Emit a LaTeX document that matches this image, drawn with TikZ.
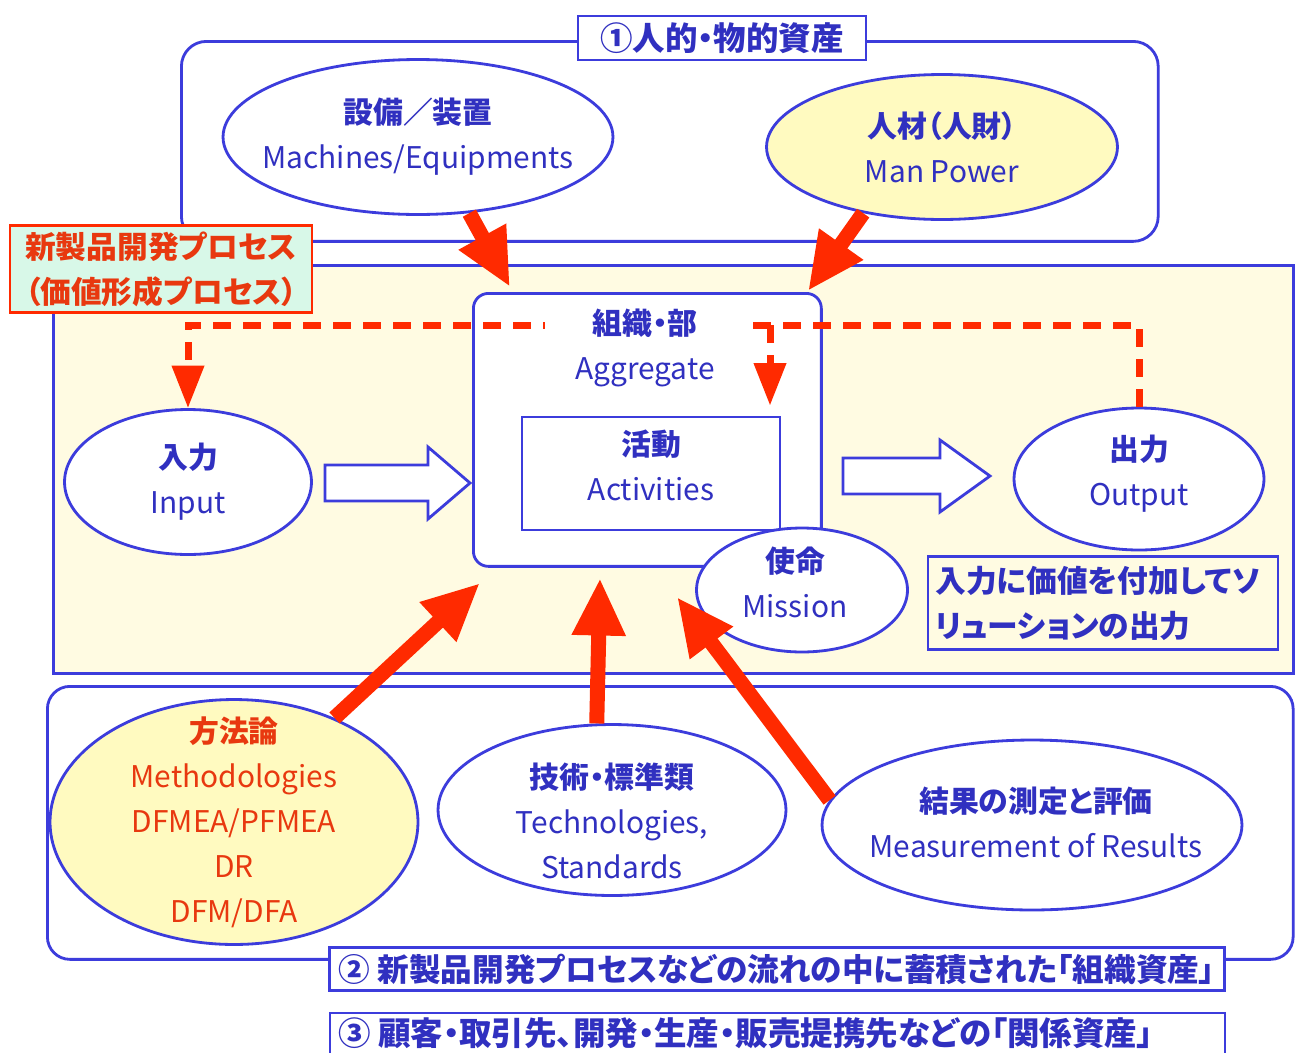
\documentclass[tikz,border=0pt]{standalone}
\usepackage{fontspec}
\setmainfont{Noto Sans CJK JP}[RawFeature=+palt]
\usetikzlibrary{arrows.meta,shapes.geometric}
\definecolor{bl}{HTML}{3C3CDC}
\definecolor{tb}{HTML}{3030C0}
\definecolor{rd}{HTML}{FF2A00}
\definecolor{rt}{HTML}{E8380F}
\definecolor{yl}{HTML}{FFFAC0}
\definecolor{pale}{HTML}{FFFBE2}
\definecolor{mint}{HTML}{D8F8E8}
\newcommand\jpb[1]{{\bfseries #1}}
\begin{document}
\begin{tikzpicture}[x=0.02cm,y=-0.02cm,
  bord/.style={draw=bl,line width=1.6pt},
  ell/.style={ellipse,bord,fill=white,inner sep=0pt},
  txt/.style={text=tb,font=\fontsize{17}{25.6}\selectfont,align=center},
  bigarr/.style={draw=rd,line width=0.3cm,-{Triangle[width=1.0cm,length=1.15cm]}},
  dasharr/.style={draw=rd,line width=0.14cm,dash pattern=on 0.36cm off 0.24cm},
  dtip/.style={-{Triangle[width=0.62cm,length=0.85cm]}},
  hollow/.style={draw=bl,line width=1.6pt,fill=white,line join=miter}
]
\useasboundingbox (0,0) rectangle (1295,1052);
\fill[white] (0,0) rectangle (1295,1052);

% big frames
\node[bord,fill=pale,minimum width=24.8cm,minimum height=8.16cm,anchor=north west,inner sep=0pt] (proc) at (52,264) {};
\node[bord,rounded corners=0.5cm,minimum width=19.54cm,minimum height=4cm,anchor=north west,inner sep=0pt] (topbox) at (180,40) {};
\node[bord,rounded corners=0.45cm,minimum width=24.92cm,minimum height=5.46cm,anchor=north west,inner sep=0pt] (botbox) at (46,685) {};

% labels on frames
\node[draw=rd,fill=mint,line width=1.6pt,minimum width=6.04cm,minimum height=1.72cm,text=rt,font=\fontsize{17.5}{25.6}\selectfont\bfseries,align=center] (plab) at (161,269) {新製品開発プロセス\\（価値形成プロセス）};
\node[bord,fill=white,minimum width=5.76cm,minimum height=0.88cm,txt,font=\fontsize{18.5}{22}\selectfont\bfseries] (lab1) at (722,38) {①人的・物的資産};
\node[bord,fill=white,minimum width=17.9cm,minimum height=0.84cm,inner xsep=1pt,txt,font=\fontsize{18}{22}\selectfont\bfseries] (lab2) at (777,969) {② 新製品開発プロセスなどの流れの中に蓄積された「組織資産」};
\draw[bord] (330,1060) |- (1225,1013) -- (1225,1060);
\node[txt,anchor=west,font=\fontsize{18.5}{22}\selectfont\bfseries] (lab3) at (332,1033) {③ 顧客・取引先、開発・生産・販売提携先などの「関係資産」};

% top ellipses
\node[ell,minimum width=7.8cm,minimum height=3.1cm] (mach) at (418,137) {};
\node[txt] at (mach) {\jpb{設備／装置}\\Machines/Equipments};
\node[ell,fill=yl,minimum width=7.02cm,minimum height=2.9cm] (mp) at (942,147) {};
\node[txt] at (mp) {\jpb{人材（人財）}\\Man Power};

% process area
\node[ell,minimum width=4.94cm,minimum height=2.9cm] (inp) at (188,482) {};
\node[txt] at (inp) {\jpb{入力}\\Input};
\node[ell,minimum width=5cm,minimum height=2.84cm] (outp) at (1139,479) {};
\node[txt] at (1139,474) {\jpb{出力}\\Output};
\node[bord,minimum width=7cm,minimum height=1.86cm,txt,font=\fontsize{17.5}{25.6}\selectfont\bfseries,align=left,text width=6.7cm] (sol) at (1103,603) {入力に価値を付加してソ\\リューションの出力};

\node[bord,fill=white,rounded corners=0.3cm,minimum width=6.96cm,minimum height=5.46cm,anchor=north west,inner sep=0pt] (agg) at (472,292) {};
\node[bord,fill=white,minimum width=5.16cm,minimum height=2.26cm,inner sep=0pt] (act) at (651,473.5) {};
\node[txt] at (651,465) {\jpb{活動}\\Activities};
\node[ell,minimum width=4.22cm,minimum height=2.48cm] (mis) at (802,590) {};
\node[txt] at (795,582) {\jpb{使命}\\Mission};

% hollow arrows
\draw[hollow] (325,465) -- (428,465) -- (428,447) -- (470,483) -- (428,519) -- (428,501) -- (325,501) -- cycle;
\draw[hollow] (843,458) -- (940,458) -- (940,440) -- (990,476) -- (940,512) -- (940,494) -- (843,494) -- cycle;

% dashed flow
\coordinate (dl) at (0,325);
\coordinate (br) at (770,325);
\draw[dasharr,dtip] (outp.north) |- (dl -| inp.north) -- (inp.north);
\draw[dasharr,dtip,shorten >=0.2cm] (br) -- (br |- act.north);
\node[txt,fill=white,minimum width=4.0cm,inner ysep=2pt] (aggt) at (645,348) {\jpb{組織・部}\\Aggregate};

% bottom ellipses
\node[ell,fill=yl,minimum width=7.36cm,minimum height=4.9cm] (meth) at (234,822) {};
\node[txt,text=rt] at (meth) {\jpb{方法論}\\Methodologies\\DFMEA/PFMEA\\DR\\DFM/DFA};
\node[ell,minimum width=6.96cm,minimum height=3.42cm] (tech) at (612,810) {};
\node[txt] at (612,821) {\jpb{技術・標準類}\\Technologies,\\Standards};
\node[ell,minimum width=8.4cm,minimum height=3.4cm] (meas) at (1032,825) {};
\node[txt] at (1036,822) {\jpb{結果の測定と評価}\\Measurement of Results};

% big red arrows
\coordinate (t1) at (510,287);
\coordinate (t2) at (808,291);
\coordinate (t3) at (480,583);
\coordinate (t4) at (600,578);
\coordinate (t5) at (677,597);
\draw[bigarr] (mach.-56) -- (t1);
\draw[bigarr] (mp.-140) -- (t2);
\draw[bigarr] (meth.46) -- (t3);
\draw[bigarr] (tech.100) -- (t4);
\draw[bigarr] (meas.173) -- (t5);
\end{tikzpicture}
\end{document}
